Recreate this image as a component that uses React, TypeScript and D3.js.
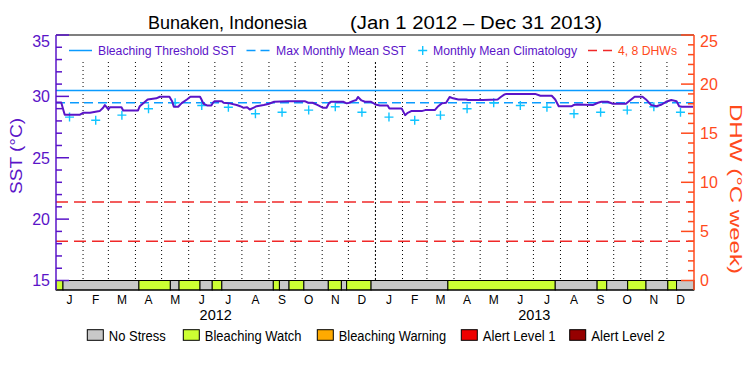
import React from "react";
import * as d3 from "d3";

// SST time series
const sstDates = [
  "2012-01-01", "2012-01-07", "2012-01-09", "2012-01-11", "2012-01-28", "2012-02-01", "2012-02-09", "2012-02-20",
  "2012-02-24", "2012-02-26", "2012-03-01", "2012-03-03", "2012-03-16", "2012-03-18", "2012-04-04", "2012-04-06",
  "2012-04-15", "2012-04-25", "2012-04-29", "2012-05-10", "2012-05-13", "2012-05-15", "2012-05-20", "2012-05-24",
  "2012-05-30", "2012-06-03", "2012-06-14", "2012-06-16", "2012-06-18", "2012-06-22", "2012-06-27", "2012-06-29",
  "2012-07-01", "2012-07-09", "2012-07-11", "2012-07-18", "2012-07-26", "2012-07-30", "2012-08-03", "2012-08-07",
  "2012-08-10", "2012-08-14", "2012-08-18", "2012-08-26", "2012-09-01", "2012-09-07", "2012-09-23", "2012-10-12",
  "2012-10-16", "2012-10-21", "2012-10-27", "2012-11-02", "2012-11-06", "2012-11-09", "2012-11-11", "2012-11-25",
  "2012-11-29", "2012-12-02", "2012-12-06", "2012-12-10", "2012-12-12", "2012-12-16", "2012-12-20", "2012-12-27",
  "2012-12-29", "2013-01-01", "2013-01-06", "2013-01-15", "2013-01-17", "2013-01-31", "2013-02-04", "2013-02-07",
  "2013-02-11", "2013-02-23", "2013-02-27", "2013-03-10", "2013-03-14", "2013-03-18", "2013-03-23", "2013-03-27",
  "2013-03-31", "2013-04-06", "2013-04-15", "2013-04-17", "2013-05-04", "2013-05-21", "2013-05-25", "2013-05-29",
  "2013-05-31", "2013-07-03", "2013-07-09", "2013-07-22", "2013-07-26", "2013-07-30", "2013-08-14", "2013-08-16",
  "2013-08-20", "2013-09-07", "2013-09-13", "2013-09-17", "2013-09-24", "2013-09-30", "2013-10-15", "2013-10-21",
  "2013-10-25", "2013-11-03", "2013-11-07", "2013-11-13", "2013-11-19", "2013-11-25", "2013-11-30", "2013-12-06",
  "2013-12-12", "2013-12-15", "2013-12-18", "2013-12-31",
];
const sstValues = [
  29.5, 29.5, 29.0, 28.5, 28.5, 28.66, 28.66, 28.8,
  29.07, 29.29, 28.95, 29.12, 29.12, 28.85, 28.85, 29.2,
  29.75, 29.84, 29.97, 29.97, 29.61, 29.15, 29.15, 29.45,
  29.75, 29.97, 29.97, 29.7, 29.4, 29.26, 29.26, 29.5,
  29.61, 29.61, 29.48, 29.43, 29.3, 29.2, 29.07, 29.12,
  28.93, 29.07, 29.2, 29.29, 29.4, 29.56, 29.61, 29.61,
  29.48, 29.48, 29.29, 29.07, 29.07, 29.48, 29.56, 29.56,
  29.43, 29.48, 29.61, 29.7, 29.95, 29.67, 29.56, 29.56,
  29.48, 29.34, 29.26, 29.26, 29.02, 29.02, 28.47, 28.66,
  28.8, 28.8, 28.88, 28.88, 29.2, 29.43, 29.48, 29.95,
  29.84, 29.75, 29.75, 29.7, 29.7, 29.75, 29.97, 30.16,
  30.2, 30.2, 30.05, 30.05, 29.75, 29.2, 29.2, 29.29,
  29.34, 29.29, 29.48, 29.56, 29.56, 29.4, 29.4, 29.75,
  29.97, 29.97, 29.75, 29.29, 29.2, 29.34, 29.56, 29.7,
  29.61, 29.2, 29.15, 29.15,
];

// monthly mean climatology, Jan..Dec
const climValues = [28.31, 28.06, 28.47, 28.99, 29.48, 29.26, 29.12, 28.58, 28.71, 28.88, 29.15, 28.71];
const mmm = 29.48;
const bleachingThreshold = 30.48;
const dhwLevels = [4, 8];

// bleaching stress level periods
const stressStarts = [
  "2012-01-01", "2012-01-09", "2012-04-05", "2012-05-11", "2012-05-21", "2012-06-14", "2012-06-28", "2012-07-09",
  "2012-09-06", "2012-09-13", "2012-09-24", "2012-10-11", "2012-11-08", "2012-11-23", "2012-11-29", "2012-12-27",
  "2013-03-25", "2013-07-26", "2013-09-12", "2013-09-23", "2013-10-17", "2013-11-07", "2013-12-02", "2013-12-12",
];
const stressLevels = [1, 0, 1, 0, 1, 0, 1, 0, 1, 0, 1, 0, 1, 0, 1, 0, 1, 0, 1, 0, 1, 0, 1, 0];
const stressNames = ["No Stress", "Bleaching Watch", "Bleaching Warning", "Alert Level 1", "Alert Level 2"];
const stressColors = ["#c8c8c8", "#ccff33", "#ffaa00", "#ee0000", "#960000"];

const monthLetters = ["J", "F", "M", "A", "M", "J", "J", "A", "S", "O", "N", "D"];
const years = [2012, 2013];
const sstTicks = [15, 20, 25, 30, 35];
const dhwTicks = [0, 5, 10, 15, 20, 25];

const W = 750;
const H = 375;
const left = 56;
const right = 694;
const top = 35;
const bottom = 290;
const barTop = 280.5;

const purple = "#5a14c8";
const orange = "#ff4a1c";
const blue = "#0a9bff";
const cyan = "#10c4ff";
const red = "#f02828";
const font = "'Liberation Sans', Arial, sans-serif";

const parse = d3.utcParse("%Y-%m-%d");
const endDate = new Date(Date.UTC(2014, 0, 1));

const x = d3.scaleUtc().domain([new Date(Date.UTC(2012, 0, 1)), endDate]).range([left, right]);
const ySst = d3.scaleLinear().domain([15, 35]).range([barTop, top]);
const yDhw = d3.scaleLinear().domain([0, 25]).range([barTop, top]);

const sstData = sstDates.map((d, i) => ({ date: parse(d) as Date, v: sstValues[i] }));
const sstLine = d3.line<{ date: Date; v: number }>().x((d) => x(d.date)).y((d) => ySst(d.v));

const months = d3.utcMonth.range(new Date(Date.UTC(2012, 0, 1)), endDate);
const monthMid = (m: Date) => new Date((m.getTime() + d3.utcMonth.offset(m, 1).getTime()) / 2);

const stressData = stressStarts.map((s, i) => ({
  start: parse(s) as Date,
  end: i < stressStarts.length - 1 ? (parse(stressStarts[i + 1]) as Date) : endDate,
  level: stressLevels[i],
}));

const sstMinor = d3.range(15, 36, 1);
const dhwMinor = d3.range(0, 26, 1);

const labelY = (y: number) => Math.max(y, top + 6) + 5.8;

const plus = (cx: number, cy: number, r: number) => `M${cx - r},${cy}H${cx + r}M${cx},${cy - r}V${cy + r}`;

const App = () => {
  return (
    <svg width={W} height={H} style={{ position: "absolute", left: 0, top: 0, background: "#fff" }} fontFamily={font}>
      {/* title */}
      <text x={148} y={29} fontSize={18} textLength={159} lengthAdjust="spacingAndGlyphs">Bunaken, Indonesia</text>
      <text x={350} y={29} fontSize={18} textLength={252} lengthAdjust="spacingAndGlyphs">(Jan 1 2012 – Dec 31 2013)</text>

      {/* month grid */}
      {months.slice(1).map((m, i) => (
        <line key={i} x1={x(m)} x2={x(m)} y1={62} y2={barTop} stroke="#000" strokeWidth={1}
          strokeDasharray={m.getUTCMonth() === 0 ? "2,2" : "1,3"} />
      ))}

      {/* DHW levels */}
      {dhwLevels.map((d) => (
        <line key={d} x1={left} x2={right} y1={yDhw(d)} y2={yDhw(d)} stroke={red} strokeWidth={1.5} strokeDasharray="12,6" />
      ))}

      {/* threshold and MMM */}
      <line x1={left} x2={right} y1={ySst(bleachingThreshold)} y2={ySst(bleachingThreshold)} stroke={blue} strokeWidth={1.5} />
      <line x1={left} x2={right} y1={ySst(mmm)} y2={ySst(mmm)} stroke={blue} strokeWidth={1.5} strokeDasharray="9,5" />

      {/* climatology */}
      {months.map((m, i) => (
        <path key={i} d={plus(x(monthMid(m)), ySst(climValues[m.getUTCMonth()]), 4.5)} stroke={cyan} strokeWidth={1.4} fill="none" />
      ))}

      {/* SST */}
      <path d={sstLine(sstData) ?? ""} fill="none" stroke={purple} strokeWidth={2} strokeLinejoin="round" />

      {/* stress bars */}
      {stressData.map((s, i) => (
        <rect key={i} x={x(s.start)} y={barTop} width={x(s.end) - x(s.start)} height={bottom - barTop}
          fill={stressColors[s.level]} stroke="#000" strokeWidth={1} />
      ))}

      {/* frame */}
      <line x1={left} x2={right} y1={top} y2={top} stroke="#000" strokeWidth={1.2} />
      <line x1={left} x2={right} y1={bottom} y2={bottom} stroke="#000" strokeWidth={1.2} />
      <line x1={left} x2={left} y1={top} y2={bottom} stroke={purple} strokeWidth={1.5} />
      <line x1={right} x2={right} y1={top} y2={bottom} stroke={orange} strokeWidth={1.5} />

      {/* left axis */}
      {sstMinor.map((t) => (
        <line key={t} x1={left} x2={left + (t % 5 === 0 ? 13 : 6)} y1={ySst(t)} y2={ySst(t)} stroke={purple} strokeWidth={1.5} />
      ))}
      {sstTicks.map((t) => (
        <text key={t} x={50} y={labelY(ySst(t))} fontSize={16} fill={purple} textAnchor="end">{t}</text>
      ))}
      <text transform="translate(22,156) rotate(-90)" fontSize={16} fill={purple} textAnchor="middle"
        textLength={76} lengthAdjust="spacingAndGlyphs">SST (°C)</text>

      {/* right axis */}
      {dhwMinor.map((t) => (
        <line key={t} x1={right} x2={right - (t % 5 === 0 ? 13 : 6)} y1={yDhw(t)} y2={yDhw(t)} stroke={orange} strokeWidth={1.5} />
      ))}
      {dhwTicks.map((t) => (
        <text key={t} x={700} y={labelY(yDhw(t))} fontSize={16} fill={orange} textAnchor="start">{t}</text>
      ))}
      <text transform="translate(730,189) rotate(90)" fontSize={16} fill={orange} textAnchor="middle"
        textLength={170} lengthAdjust="spacingAndGlyphs">DHW (°C week)</text>

      {/* x labels */}
      {months.map((m, i) => (
        <text key={i} x={x(monthMid(m))} y={304} fontSize={12} textAnchor="middle">{monthLetters[m.getUTCMonth()]}</text>
      ))}
      {years.map((yr) => (
        <text key={yr} x={x(new Date(Date.UTC(yr, 6, 2)))} y={320} fontSize={14.5} textAnchor="middle">{yr}</text>
      ))}

      {/* top legend */}
      <g fontSize={12.5}>
        <line x1={69} x2={92} y1={50.5} y2={50.5} stroke={blue} strokeWidth={1.5} />
        <text x={98} y={55} fill={purple} textLength={138} lengthAdjust="spacingAndGlyphs">Bleaching Threshold SST</text>
        <line x1={246.5} x2={270} y1={50.5} y2={50.5} stroke={blue} strokeWidth={1.5} strokeDasharray="9,5" />
        <text x={276} y={55} fill={purple} textLength={130} lengthAdjust="spacingAndGlyphs">Max Monthly Mean SST</text>
        <path d={plus(422.7, 50.5, 4.5)} stroke={cyan} strokeWidth={1.4} />
        <text x={433} y={55} fill={purple} textLength={144} lengthAdjust="spacingAndGlyphs">Monthly Mean Climatology</text>
        <line x1={588} x2={612} y1={50.5} y2={50.5} stroke={red} strokeWidth={1.5} strokeDasharray="9,6" />
        <text x={618} y={55} fill={orange} textLength={59} lengthAdjust="spacingAndGlyphs">4, 8 DHWs</text>
      </g>

      {/* bottom legend */}
      {stressNames.map((n, i) => {
        const bx = [87.3, 183.3, 317.3, 461.3, 569.7][i];
        const tw = [57, 96.7, 107.3, 72.7, 73.6][i];
        return (
          <g key={n}>
            <rect x={bx} y={329.7} width={16} height={10.6} fill={stressColors[i]} stroke="#000" strokeWidth={1} />
            <text x={bx + 21.5} y={341} fontSize={14} textLength={tw} lengthAdjust="spacingAndGlyphs">{n}</text>
          </g>
        );
      })}
    </svg>
  );
};

export default App;
